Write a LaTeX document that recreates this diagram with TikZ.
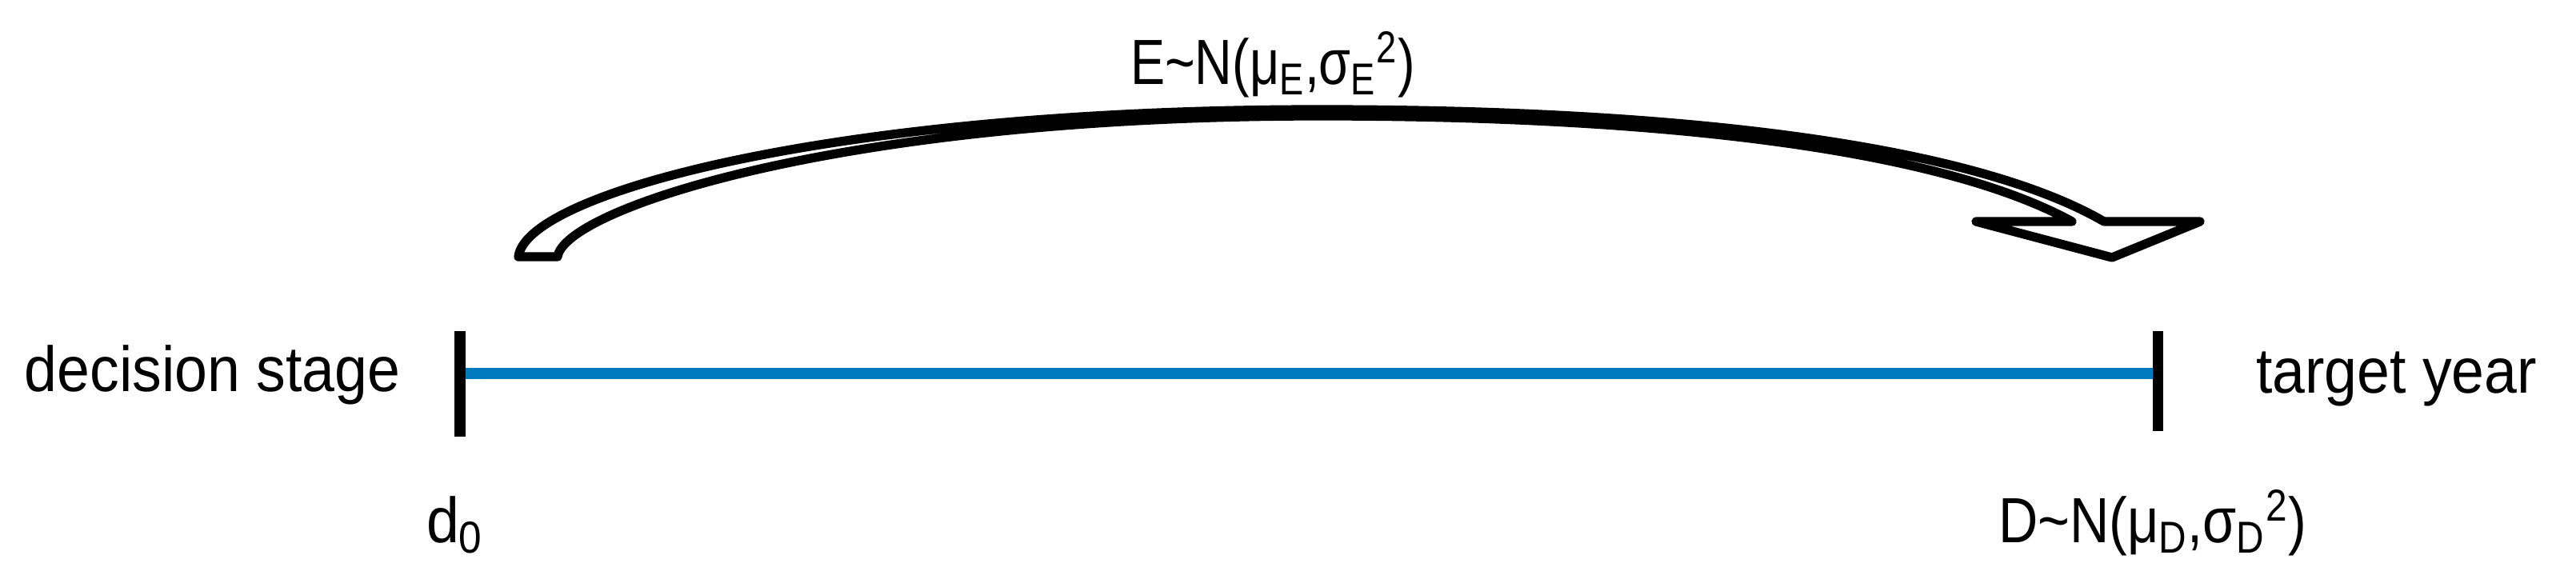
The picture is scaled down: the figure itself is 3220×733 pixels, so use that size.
\documentclass[tikz,border=0pt]{standalone}
\usepackage{fontspec}
\usepackage{graphicx}
\setmainfont{Liberation Sans}[FakeStretch=0.92]
\definecolor{lineblue}{RGB}{0,122,190}
\tikzset{
  lbl/.style={inner sep=0pt, outer sep=0pt, anchor=base west, font=\fontsize{22.7}{27}\selectfont},
  tick/.style={line width=3.7pt, black},
  timeline/.style={line width=3.8pt, lineblue},
  bigarrow/.style={draw=black, fill=white, line width=3.2pt, line join=round}
}
\begin{document}
\begin{tikzpicture}[x=0.01cm, y=-0.01cm]
\useasboundingbox (0,0) rectangle (3220,733);
% timeline
\coordinate (L) at (575,467);
\coordinate (R) at (2697,467);
\draw[timeline] (L) -- (R);
\draw[tick] ([yshift=0.53cm]L) -- ([yshift=-0.79cm]L);
\draw[tick] ([yshift=0.53cm]R) -- ([yshift=-0.72cm]R);
% labels
\node[lbl] (dstage) at (31,489) {decision stage};
\node[lbl] (tyear) at (2820,491) {target year};
\node[lbl] (d0) at (533,678) {d\textsubscript{0}};
\node[lbl] (dlab) at (2498,678) {\scalebox{0.93}[1]{D\textasciitilde N(μ\textsubscript{D},σ\textsubscript{D}\textsuperscript{2})}};
\node[lbl] (elab) at (1413,105) {\scalebox{0.88}[1]{E\textasciitilde N(μ\textsubscript{E},σ\textsubscript{E}\textsuperscript{2})}};
% curved block arrow
\coordinate (tailA) at (648,321);
\coordinate (tailB) at (697,321);
\coordinate (topO) at (1650,137);
\coordinate (topI) at (1650,145);
\coordinate (shO) at (2630,277);
\coordinate (shI) at (2590,277);
\coordinate (hR) at (2750,277);
\coordinate (hL) at (2470,277);
\coordinate (tip) at (2640,322);
\draw[bigarrow] (tailA) .. controls (658,240) and (1050,137) .. (topO)
  .. controls (2150,137) and (2480,190) .. (shO)
  -- (hR) -- (tip) -- (hL) -- (shI)
  .. controls (2450,200) and (2150,145) .. (topI)
  .. controls (1050,145) and (705,262) .. (tailB) -- cycle;
\end{tikzpicture}
\end{document}
